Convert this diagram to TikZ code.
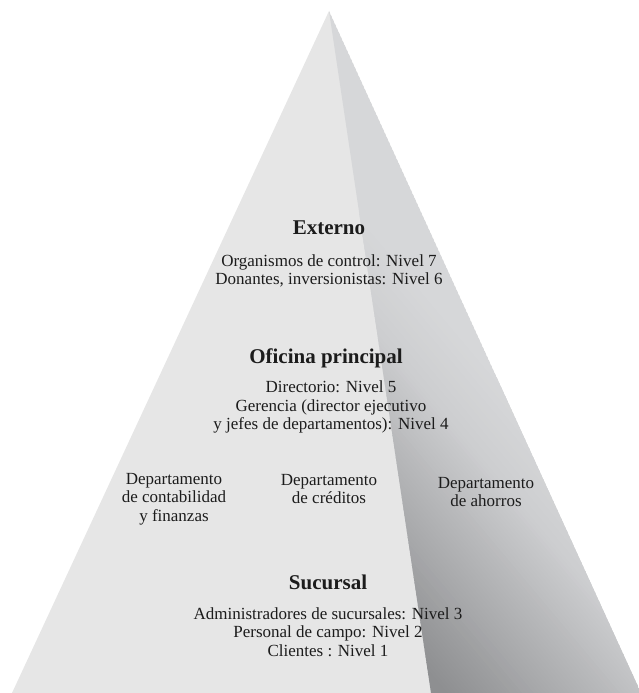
\documentclass[tikz,border=0pt]{standalone}
\usepackage{fontspec}
\setmainfont{Liberation Serif}
\definecolor{leftface}{HTML}{E6E6E6}
\definecolor{rfdark}{HTML}{8E8F91}
\definecolor{rfmid}{HTML}{BBBCBE}
\definecolor{rfsoft}{HTML}{CDCED0}
\definecolor{rflight}{HTML}{D6D7D9}
\definecolor{ink}{HTML}{1C1C1C}
\begin{document}
\begin{tikzpicture}[x=1pt,y=1pt,
  head/.style={font=\fontsize{21}{24}\selectfont\bfseries, text=ink, inner sep=0pt},
  body/.style={font=\fontsize{17}{18.5}\selectfont, align=center, text=ink, inner sep=0pt}]
  \useasboundingbox (0,0) rectangle (639,693);
  % pyramid corners
  \coordinate (apex) at (329,682);
  \coordinate (bl) at (12,0);
  \coordinate (ridge) at (431,0);
  \coordinate (br) at (641,0);
  % lit face
  \fill[leftface] (apex) -- (bl) -- (br) -- cycle;
  % shaded face: flat tone above, darkening towards the foot of the ridge
  \begin{scope}
    \clip (apex) -- (ridge) -- (br) -- cycle;
    \fill[rflight] (apex) -- (ridge) -- (br) -- cycle;
    \fill[rfdark, rotate=40] (-1000,-1000) rectangle (341,1000);
    \foreach \i in {0,...,80}{
      \pgfmathsetmacro\p{340+3*\i}
      \pgfmathtruncatemacro\ta{min(100,max(0,(\p-340)/130*100))}
      \pgfmathtruncatemacro\tb{min(100,max(0,(\p-470)/50*100))}
      \pgfmathtruncatemacro\tc{min(100,max(0,(\p-520)/60*100))}
      \ifnum\tc>0 \colorlet{stripe}{rflight!\tc!rfsoft}%
      \else\ifnum\tb>0 \colorlet{stripe}{rfsoft!\tb!rfmid}%
      \else\colorlet{stripe}{rfmid!\ta!rfdark}\fi\fi
      \fill[stripe, rotate=40] (\p,-1000) rectangle ({\p+3.6},1000);
    }
  \end{scope}
  % labels
  \node[head] (ext) at (329,465) {Externo};
  \node[body] (extl) at (329,422) {Organismos de control: Nivel 7\\Donantes, inversionistas: Nivel 6};
  \node[head] (ofi) at (326,335) {Oficina principal};
  \node[body] (ofil) at (331,286) {Directorio: Nivel 5\\Gerencia (director ejecutivo\\y jefes de departamentos): Nivel 4};
  \node[body] (cont) at (174,194) {Departamento\\de contabilidad\\y finanzas};
  \node[body] (cred) at (329,204) {Departamento\\de créditos};
  \node[body] (aho) at (486,201) {Departamento\\de ahorros};
  \node[head] (suc) at (328,111) {Sucursal};
  \node[body] (sucl) at (328,61) {Administradores de sucursales: Nivel 3\\Personal de campo: Nivel 2\\Clientes : Nivel 1};
\end{tikzpicture}
\end{document}
